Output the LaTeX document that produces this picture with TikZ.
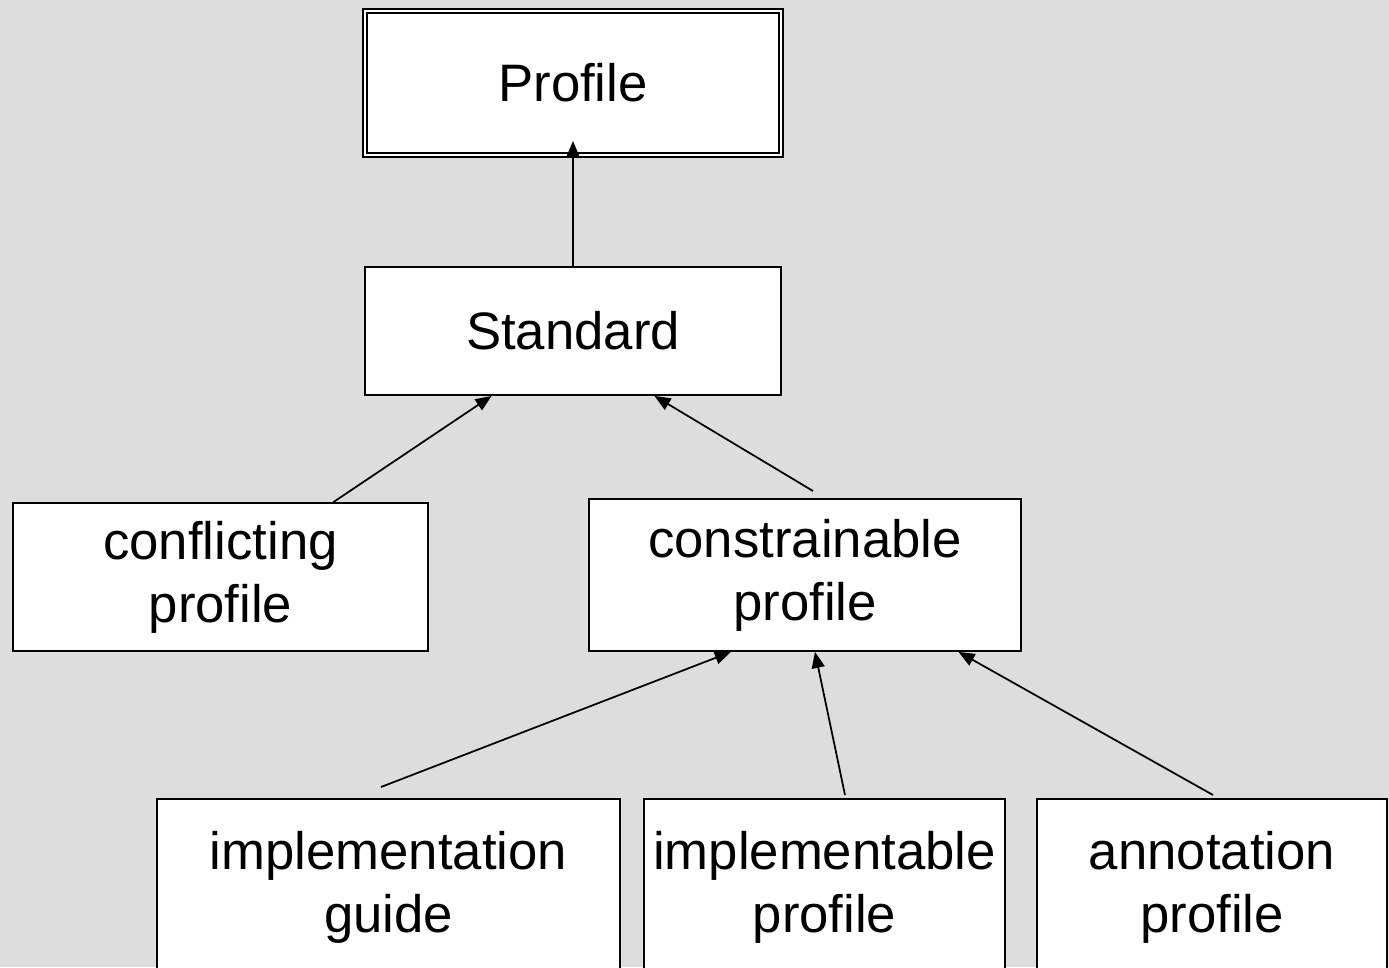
\documentclass[tikz,border=0pt]{standalone}
\usepackage{fontspec}
\setmainfont{Liberation Sans}
\usetikzlibrary{arrows.meta, calc}

\begin{document}
\begin{tikzpicture}[x=0.02cm, y=-0.02cm,
        box/.style={draw, fill=white, line width=1.1pt, inner sep=0pt, align=center,
            font=\fontsize{30}{36}\selectfont},
        arr/.style={line width=1pt, -{Triangle[length=0.32cm, width=0.26cm]}}]
            \useasboundingbox (0, 0) rectangle (1389, 967);
            \clip (0, 0) rectangle (1389, 967);
            \fill[fill={rgb,255:red,221;green,221;blue,221}] (0, 0) rectangle (1389, 967);
            % boxes
            \node[box, double, double distance=1.2pt, minimum width=8.32cm, minimum height=2.88cm] (prf) at (573, 83) {Profile};
            \node[box, minimum width=8.32cm, minimum height=2.56cm] (std) at (573, 331) {Standard};
            \node[box, minimum width=8.3cm, minimum height=2.96cm] (cfl) at (220.5, 577) {conflicting\\profile};
            \node[box, minimum width=8.64cm, minimum height=3.04cm] (cst) at (805, 575) {constrainable\\profile};
            \node[box, minimum width=9.26cm, minimum height=3.52cm] (gde) at (388.5, 887) {implementation\\guide};
            \node[box, minimum width=7.22cm, minimum height=3.52cm] (imp) at (824.5, 887) {implementable\\profile};
            \node[box, minimum width=7.0cm, minimum height=3.52cm] (ann) at (1212, 887) {annotation\\profile};
            % loose ends of the arrows
            \coordinate (cst tail) at (813, 491);
            \coordinate (gde tail) at (381, 787);
            \coordinate (imp tail) at (845, 795);
            \coordinate (ann tail) at (1213, 795);
            % arrows
            \draw[arr] (std.north) -- ([yshift=0.3cm]prf.south);
            \draw[arr] ($(cfl.north west)!0.771!(cfl.north east)$) -- ($(std.south west)!0.305!(std.south east)$);
            \draw[arr] (cst tail) -- ($(std.south west)!0.695!(std.south east)$);
            \draw[arr] (gde tail) -- ($(cst.south west)!0.329!(cst.south east)$);
            \draw[arr] (imp tail) -- ($(cst.south west)!0.523!(cst.south east)$);
            \draw[arr] (ann tail) -- ($(cst.south west)!0.854!(cst.south east)$);
        \end{tikzpicture}
\end{document}
